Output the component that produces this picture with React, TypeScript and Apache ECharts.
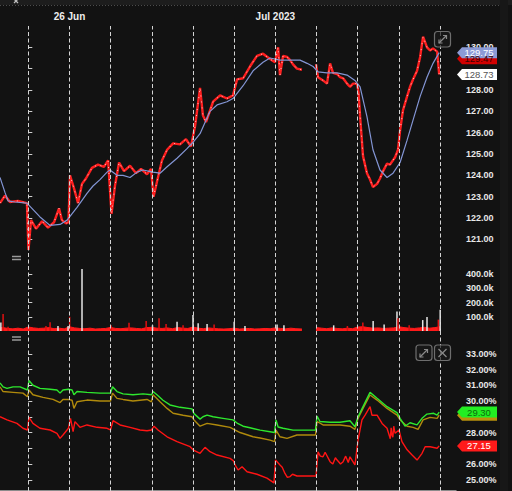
import React, { useEffect, useRef } from 'react';
import * as echarts from 'echarts';

// x values are hours since 25 Jun 00:00
const X_MIN = -16.5;
const X_MAX = 249.3;

const dayLineHours = [0, 24, 48, 72, 96, 120, 144, 168, 192, 216, 240];
const topTickHours = [24, 144];
const topTickLabels = ['26 Jun', 'Jul 2023'];

const priceTicks = [121, 122, 123, 124, 125, 126, 127, 128, 129, 130];
const priceLabelTicks = [121, 122, 123, 124, 125, 126, 127, 128, 130]; // 129.00 sits under the price tags
const volumeTicks = [100, 200, 300, 400]; // thousands
const pctTicks = [25, 26, 27, 28, 29, 30, 31, 32, 33];
const pctLabelTicks = [25, 26, 27, 28, 30, 31, 32, 33]; // 29.00% sits under the green tag

const price: [number, number | null][] = [
  [-16.5, 122.7], [-13.6, 123.05], [-10.7, 122.75], [-6.0, 122.8], [-0.8, 122.7], [0.1, 120.5], [1.6, 121.9],
  [4.5, 121.5], [8.0, 121.85], [11.5, 121.55], [15.0, 121.8], [17.9, 122.45], [19.6, 121.9], [22.0, 121.75],
  [23.4, 121.8], [24.3, 124.0], [26.6, 123.4], [29.0, 122.7], [31.3, 123.6], [33.6, 123.85], [37.1, 124.35],
  [40.6, 124.5], [44.1, 124.4], [46.5, 124.7], [48.5, 122.2], [50.5, 123.5], [52.9, 124.6], [55.8, 124.2],
  [59.3, 124.45], [62.8, 124.1], [65.7, 124.3], [69.2, 124.05], [71.5, 124.3], [73.0, 123.0], [75.0, 123.7],
  [77.9, 124.7], [80.9, 125.2], [84.4, 125.5], [88.4, 125.45], [91.9, 125.7], [94.8, 125.35], [97.2, 126.3],
  [100.1, 128.1], [101.8, 126.8], [103.6, 126.5], [107.7, 127.45], [111.8, 127.75], [115.8, 127.6],
  [119.3, 127.75], [121.7, 128.5], [125.2, 128.55], [129.2, 129.1], [133.3, 129.6], [136.8, 129.7],
  [140.9, 129.45], [143.8, 129.3], [145.6, 130.0], [146.7, 128.7], [148.5, 129.6], [150.8, 129.55],
  [152.6, 129.4], [154.3, 129.2], [156.6, 129.0], [159.5, 128.95], [163, null], [167.7, 129.2],
  [168.9, 128.6], [171.8, 128.45], [174.1, 128.3], [175.9, 129.25], [177.6, 128.8], [180.0, 128.75],
  [181.7, 128.6], [183.5, 128.55], [185.8, 128.3], [187.5, 128.15], [189.3, 128.3], [191.6, 128.3],
  [192.5, 127.9], [193.4, 126.75], [195.1, 124.9], [197.4, 124.1], [199.2, 123.8], [200.9, 123.45],
  [203.3, 123.6], [205.0, 123.85], [206.8, 124.2], [209.1, 124.55], [210.8, 124.5], [213.8, 124.85],
  [215.5, 125.2], [216.7, 126.1], [218.4, 127.05], [220.8, 127.7], [222.5, 128.15], [224.3, 128.5],
  [226.6, 128.9], [228.4, 129.55], [230.1, 130.5], [232.4, 130.0], [234.2, 129.85], [235.9, 129.95],
  [238.3, 129.8], [239.5, 128.73],
];

const priceMA: [number, number][] = [
  [-16.5, 123.9], [-13.6, 123.2], [-11.8, 122.8], [-7.8, 122.75], [-0.8, 122.7], [6.8, 122.05], [12.7, 121.65],
  [18.5, 121.7], [22.6, 121.9], [28.4, 122.5], [34.2, 123.15], [37.7, 123.5], [41.8, 123.8], [45.9, 124.15],
  [47.6, 124.25], [51.7, 124.0], [55.2, 124.0], [59.3, 123.9], [63.4, 124.15], [66.9, 124.25], [72.7, 124.15],
  [76.8, 124.1], [80.9, 124.4], [86.7, 124.8], [92.5, 125.25], [96.0, 125.55], [100.1, 125.95], [105.9, 127.0],
  [110.0, 127.3], [115.8, 127.45], [119.3, 127.6], [125.2, 128.2], [131.0, 128.9], [136.8, 129.3],
  [140.9, 129.5], [146.7, 129.4], [152.6, 129.4], [158.4, 129.4], [162.5, 129.25], [166.0, 129.1],
  [168.9, 128.85], [174.1, 128.8], [180.0, 128.8], [185.8, 128.7], [190.4, 128.45], [193.4, 128.15],
  [197.4, 126.75], [200.9, 125.2], [205.0, 124.25], [209.1, 123.9], [212.6, 124.1], [216.7, 124.6],
  [220.8, 125.65], [224.3, 126.6], [228.4, 127.7], [232.4, 128.6], [235.9, 129.25], [239.5, 129.75],
];

const bidTagValue = 129.47;

// volume in thousands
const volumeBase: [number, number | null][] = [
  [-16.5, 22], [-15, 25], [-12, 18], [-9, 15], [-6, 20], [-3, 14], [0, 28], [3, 22], [6, 18], [9, 20], [12, 24],
  [15, 16], [18, 20], [21, 15], [24, 30], [27, 22], [30, 18], [33, 16], [36, 20], [39, 14], [42, 16],
  [45, 18], [48, 25], [51, 18], [54, 16], [57, 20], [60, 22], [63, 18], [66, 15], [69, 24], [72, 26],
  [75, 20], [78, 18], [81, 22], [84, 16], [87, 24], [90, 20], [93, 18], [96, 28], [99, 20], [102, 16],
  [105, 22], [108, 18], [111, 15], [114, 14], [117, 16], [120, 20], [123, 14], [126, 16], [129, 18],
  [132, 14], [135, 15], [138, 18], [141, 16], [144, 22], [147, 18], [150, 15], [153, 20], [156, 16],
  [159.5, 14], [163, null], [167.7, 24], [171, 20], [174, 16], [177, 22], [180, 18], [183, 15], [186, 20],
  [189, 16], [192, 28], [195, 30], [198, 24], [201, 20], [204, 22], [207, 18], [210, 20], [213, 22],
  [216, 30], [219, 24], [222, 20], [225, 18], [228, 22], [231, 26], [234, 20], [237, 24], [240, 30],
];

// [hour, thousands, 1 = up (white), 0 = down (red)]
const volumeSpikes: [number, number, number][] = [
  [-16.0, 60, 1], [-14.7, 120, 0], [-11.8, 30, 0], [10.3, 35, 0], [12.7, 62, 0], [17.3, 35, 1],
  [23.2, 35, 1], [24.1, 100, 0], [31.3, 437, 1], [48.2, 40, 0], [58.7, 58, 0], [68.7, 70, 0],
  [72.4, 40, 1], [76.2, 90, 0], [80.3, 50, 0], [86.7, 65, 1], [90.2, 40, 0], [96.0, 112, 1],
  [99.0, 55, 1], [104.2, 50, 1], [108.3, 45, 0], [120.0, 65, 1], [126.3, 35, 1], [145.0, 45, 1],
  [149.0, 40, 1], [178.0, 40, 1], [186.0, 35, 0], [195.0, 60, 0], [201.0, 70, 1], [207.4, 45, 1],
  [214.9, 137, 1], [215.5, 90, 0], [222.0, 40, 0], [229.9, 77, 1], [232.4, 99, 1], [239.0, 80, 0],
  [240.1, 150, 1],
];

const ivGreen: [number, number][] = [
  [-16.5, 31.15], [-14.7, 30.9], [-12.4, 30.8], [-8.9, 30.9], [-4.8, 30.9], [-0.5, 30.7], [0.4, 31.3],
  [2.7, 31.0], [6.8, 30.8], [12.7, 30.75], [16.7, 30.7], [18.5, 30.5], [20.2, 30.7], [23.4, 30.75],
  [25.5, 30.7], [26.6, 30.4], [28.4, 30.6], [34.2, 30.55], [41.8, 30.5], [47.9, 30.5], [49.1, 30.9],
  [51.7, 30.6], [55.2, 30.45], [61.0, 30.4], [66.9, 30.45], [71.8, 30.4], [72.7, 30.6], [75.0, 30.4],
  [78.5, 30.05], [82.6, 29.75], [88.4, 29.6], [95.4, 29.5], [96.6, 29.2], [100.1, 28.85], [101.8, 29.0],
  [104.2, 29.1], [107.7, 29.0], [113.5, 28.9], [119.3, 28.8], [121.7, 28.6], [125.2, 28.4], [129.2, 28.3],
  [135.1, 28.15], [140.9, 28.05], [143.5, 28.0], [144.4, 28.8], [145.6, 28.35], [148.5, 28.27],
  [154.3, 28.15], [161.9, 28.15], [167.4, 28.15], [168.3, 29.05], [170.0, 28.7], [175.9, 28.65],
  [181.7, 28.65], [187.5, 28.75], [190.4, 28.37], [192.2, 29.0], [195.1, 29.64], [199.2, 30.55],
  [203.3, 30.17], [209.1, 29.64], [214.9, 29.26], [216.7, 28.9], [219.6, 28.4], [222.5, 28.62],
  [226.6, 28.48], [229.5, 28.9], [232.4, 29.17], [236.3, 29.22], [238.3, 29.1], [239.5, 29.3],
];

const ivGold: [number, number][] = [
  [-16.5, 30.9], [-14.7, 30.6], [-8.9, 30.55], [-3.1, 30.5], [-0.5, 30.27], [0.4, 30.7], [2.7, 30.4],
  [8.6, 30.23], [14.4, 30.1], [18.5, 29.9], [20.2, 30.1], [23.4, 30.1], [25.5, 30.05], [26.6, 29.53],
  [28.4, 29.95], [34.2, 30.06], [41.8, 30.0], [47.9, 30.0], [49.1, 30.5], [51.7, 30.17], [55.2, 30.1],
  [61.0, 30.0], [69.2, 30.1], [71.8, 29.95], [72.7, 30.4], [76.8, 29.95], [80.9, 29.53], [84.4, 29.22],
  [90.2, 29.1], [95.4, 29.0], [96.6, 28.8], [100.1, 28.4], [104.2, 28.58], [110.0, 28.48], [117.6, 28.33],
  [123.4, 28.0], [131.0, 27.73], [135.1, 27.65], [140.9, 27.52], [143.5, 27.42], [144.4, 28.15],
  [146.7, 27.73], [150.8, 27.63], [156.6, 27.84], [167.4, 27.84], [168.3, 28.7], [171.8, 28.48],
  [181.7, 28.48], [187.5, 28.4], [190.4, 28.2], [192.2, 28.9], [195.1, 29.53], [199.2, 30.38],
  [203.3, 30.06], [209.1, 29.53], [214.9, 29.1], [216.7, 28.8], [220.8, 28.4], [224.3, 28.33],
  [227.2, 28.2], [230.1, 28.8], [234.2, 28.96], [238.3, 28.9], [239.5, 29.1],
];

const ivRed: [number, number][] = [
  [-16.5, 29.0], [-12.4, 28.8], [-6.6, 28.58], [-3.1, 28.27], [-0.5, 28.16], [0.4, 28.96], [2.7, 28.58],
  [6.8, 28.27], [12.7, 28.16], [16.7, 27.95], [18.5, 27.63], [20.2, 27.84], [23.4, 28.27], [24.6, 28.9],
  [26.1, 28.05], [27.2, 28.69], [30.1, 28.33], [34.2, 28.48], [40.1, 28.33], [45.9, 28.27], [47.9, 28.16],
  [49.4, 28.75], [53.5, 28.48], [59.3, 28.33], [65.1, 28.16], [69.2, 28.11], [71.8, 28.16], [73.3, 28.4],
  [75.6, 28.16], [80.9, 27.73], [86.7, 27.42], [94.3, 27.1], [96.0, 26.9], [100.1, 26.68], [103.0, 27.06],
  [105.9, 26.78], [110.0, 26.57], [117.6, 26.36], [119.6, 26.2], [120.5, 25.94], [122.3, 25.62],
  [124.6, 25.83], [127.5, 25.51], [133.3, 25.35], [139.1, 25.1], [143.2, 24.8], [144.1, 26.25],
  [146.7, 25.94], [148.0, 25.8], [149.6, 25.4], [151.0, 25.15], [152.6, 25.2], [154.0, 25.35],
  [156.6, 25.24], [167.7, 25.24], [168.9, 26.78], [170.2, 26.5], [171.8, 26.46], [173.0, 26.75],
  [175.9, 26.15], [177.5, 26.0], [179.0, 26.4], [180.0, 26.25], [182.0, 26.0], [183.5, 26.15],
  [185.0, 26.5], [186.5, 26.1], [187.5, 26.46], [190.4, 25.94], [192.2, 27.52], [194.5, 28.8],
  [196.3, 29.1], [199.2, 29.64], [200.3, 29.1], [203.3, 29.1], [206.2, 28.58], [209.1, 28.27],
  [211.0, 27.6], [211.5, 28.3], [212.0, 27.84], [212.5, 27.7], [213.0, 28.4], [213.8, 27.95],
  [216.1, 28.16], [217.8, 27.42], [220.8, 26.9], [223.7, 26.57], [226.6, 26.25], [229.5, 26.68],
  [231.3, 27.1], [234.2, 27.1], [238.3, 27.0], [239.5, 27.15],
];

const FONT = 'Liberation Sans, Arial, sans-serif';
const TAG_PATH = 'path://M0,5.5 L5,0 L40,0 L40,11 L5,11 Z';

function lastValue(arr: [number, number | null][]): number {
  return arr[arr.length - 1][1] as number;
}

function tag(value: number, bg: string, fg: string, showText = true) {
  return {
    coord: [X_MAX, value],
    symbol: TAG_PATH,
    symbolSize: [40, 11],
    symbolOffset: [21, 0],
    symbolKeepAspect: false,
    itemStyle: { color: bg },
    label: {
      show: showText,
      position: 'inside',
      formatter: value.toFixed(2),
      color: fg,
      fontSize: 9.5,
      fontFamily: FONT,
      offset: [2, 0],
    },
  };
}

function rightAxis(
  gridIndex: number,
  min: number,
  max: number,
  ticks: number[],
  labelTicks: number[],
  fmt: (v: number) => string,
) {
  return {
    type: 'value',
    gridIndex,
    position: 'right',
    min,
    max,
    axisLine: { show: false },
    splitLine: { show: false },
    axisTick: { show: true, customValues: ticks, length: 4, lineStyle: { color: '#d0d0d0', width: 1 } },
    axisLabel: {
      show: true,
      customValues: labelTicks,
      formatter: fmt,
      color: '#e8e8e8',
      fontSize: 9,
      fontWeight: 'bold',
      fontFamily: FONT,
      margin: 10,
    },
  };
}

function hiddenX(gridIndex: number) {
  return { type: 'value', gridIndex, min: X_MIN, max: X_MAX, show: false };
}

const gridBase = { left: 0, right: 56, outerBoundsMode: 'none', containLabel: false };

function iconBox(x: number, y: number) {
  return {
    type: 'rect',
    shape: { x, y, width: 16, height: 15.5, r: 3 },
    style: { fill: 'rgba(25,25,25,0.7)', stroke: '#6e6e6e', lineWidth: 1.2 },
    silent: true,
    z: 100,
  };
}

function seg(x1: number, y1: number, x2: number, y2: number, color = '#8a8a8a', w = 1.2) {
  return { type: 'line', shape: { x1, y1, x2, y2 }, style: { stroke: color, lineWidth: w }, silent: true, z: 101 };
}

function poly(points: number[][], color = '#8a8a8a') {
  return { type: 'polyline', shape: { points }, style: { stroke: color, lineWidth: 1.2, fill: 'none' }, silent: true, z: 101 };
}

const option: any = {
  animation: false,
  backgroundColor: '#121212',
  grid: [
    { ...gridBase, top: 26, bottom: 0 },
    { ...gridBase, top: 26, height: 224 },
    { ...gridBase, top: 260, height: 71 },
    { ...gridBase, top: 338, height: 152.8 },
  ],
  xAxis: [
    {
      type: 'value',
      gridIndex: 0,
      position: 'top',
      min: X_MIN,
      max: X_MAX,
      axisLine: { show: true, lineStyle: { color: '#b4b4b4', width: 1.5 } },
      axisTick: { show: true, customValues: topTickHours, length: 3, lineStyle: { color: '#b4b4b4' } },
      axisLabel: {
        show: true,
        customValues: topTickHours,
        formatter: (v: number) => topTickLabels[topTickHours.indexOf(v)] ?? '',
        color: '#eeeeee',
        fontSize: 10,
        fontWeight: 'bold',
        fontFamily: FONT,
        margin: 5,
      },
      splitLine: { show: false },
    },
    hiddenX(1),
    hiddenX(2),
    hiddenX(3),
  ],
  yAxis: [
    { type: 'value', gridIndex: 0, min: 0, max: 1, show: false },
    rightAxis(1, 120.5, 131, priceTicks, priceLabelTicks, (v) => v.toFixed(2)),
    rightAxis(2, 0, 500, volumeTicks, volumeTicks, (v) => v.toFixed(1) + 'k'),
    rightAxis(3, 24.3, 34, pctTicks, pctLabelTicks, (v) => v.toFixed(2) + '%'),
  ],
  series: [
    {
      name: 'days',
      type: 'line',
      xAxisIndex: 0,
      yAxisIndex: 0,
      data: [[X_MIN, -1]],
      symbol: 'none',
      lineStyle: { opacity: 0 },
      z: 10,
      markLine: {
        silent: true,
        symbol: ['none', 'none'],
        label: { show: false },
        lineStyle: { color: '#d4d4d4', type: [4, 2.5], width: 1 },
        data: dayLineHours.map((h) => ({ xAxis: h })),
      },
    },
    {
      name: 'price',
      type: 'line',
      xAxisIndex: 1,
      yAxisIndex: 1,
      data: price,
      symbol: 'none',
      connectNulls: false,
      lineStyle: { color: '#ff1f1f', width: 2.4 },
      z: 3,
      markPoint: {
        silent: true,
        data: [tag(bidTagValue, '#d00000', '#3a0000'), tag(lastValue(price), '#ffffff', '#555555')],
      },
    },
    {
      name: 'priceTicks',
      type: 'line',
      xAxisIndex: 1,
      yAxisIndex: 1,
      data: price,
      symbol: 'none',
      connectNulls: false,
      lineStyle: { color: '#ffffff', width: 1, type: [1, 5], opacity: 0.75 },
      z: 3,
    },
    {
      name: 'ma',
      type: 'line',
      xAxisIndex: 1,
      yAxisIndex: 1,
      data: priceMA,
      symbol: 'none',
      lineStyle: { color: '#8395d4', width: 1.2 },
      z: 4,
      markPoint: {
        silent: true,
        data: [tag(lastValue(priceMA), '#8c9bd6', '#ffffff')],
      },
    },
    {
      name: 'volumeBase',
      type: 'line',
      xAxisIndex: 2,
      yAxisIndex: 2,
      data: volumeBase,
      symbol: 'none',
      connectNulls: false,
      lineStyle: { color: '#ff1a1a', width: 1 },
      areaStyle: { color: '#ff1a1a', opacity: 1 },
      z: 2,
    },
    {
      name: 'volumeSpikes',
      type: 'bar',
      xAxisIndex: 2,
      yAxisIndex: 2,
      barWidth: 1.5,
      data: volumeSpikes.map(([h, v, up]) => ({
        value: [h, v],
        itemStyle: { color: up ? '#e6e6e6' : '#e01010' },
      })),
      z: 3,
    },
    {
      name: 'ivGold',
      type: 'line',
      xAxisIndex: 3,
      yAxisIndex: 3,
      data: ivGold,
      symbol: 'none',
      lineStyle: { color: '#b08a0c', width: 1.4 },
      z: 3,
      markPoint: { silent: true, data: [tag(lastValue(ivGold), '#b8920c', '#3a2e00', false)] },
    },
    {
      name: 'ivGreen',
      type: 'line',
      xAxisIndex: 3,
      yAxisIndex: 3,
      data: ivGreen,
      symbol: 'none',
      lineStyle: { color: '#2ee82e', width: 1.4 },
      z: 4,
      markPoint: { silent: true, data: [tag(lastValue(ivGreen), '#22ee22', '#0d6a0d')] },
    },
    {
      name: 'ivRed',
      type: 'line',
      xAxisIndex: 3,
      yAxisIndex: 3,
      data: ivRed,
      symbol: 'none',
      lineStyle: { color: '#ff1414', width: 1.4 },
      z: 4,
      markPoint: { silent: true, data: [tag(lastValue(ivRed), '#ff1a1a', '#ffffff')] },
    },
  ],
  graphic: [
    { type: 'rect', shape: { x: 0, y: 0, width: 512, height: 5 }, style: { fill: '#1d1d1d' }, silent: true },
    { type: 'line', shape: { x1: 0, y1: 5.5, x2: 500, y2: 5.5 }, style: { stroke: '#4c4c4c', lineWidth: 1, lineDash: [1, 2] }, silent: true },
    { type: 'rect', shape: { x: 500, y: 0, width: 8, height: 491 }, style: { fill: '#171717' }, silent: true },
    // close icon in the top bar (only its lower half is on screen)
    seg(14, -1, 18, 3, '#bdbdbd', 1.3),
    seg(18, -1, 14, 3, '#bdbdbd', 1.3),
    // pane separators "="
    seg(12, 256.5, 21, 256.5, '#9a9a9a', 1.5),
    seg(12, 259.5, 21, 259.5, '#9a9a9a', 1.5),
    seg(12, 337, 21, 337, '#9a9a9a', 1.5),
    seg(12, 340, 21, 340, '#9a9a9a', 1.5),
    // price pane expand icon
    iconBox(434.5, 31.5),
    seg(439, 43, 446.5, 35.5),
    poly([[443, 35.5], [446.5, 35.5], [446.5, 39]]),
    poly([[439, 39.5], [439, 43], [442.5, 43]]),
    // pane 3 icons
    iconBox(416, 345),
    seg(420, 357, 427.5, 349.5),
    poly([[424, 349.5], [427.5, 349.5], [427.5, 353]]),
    poly([[420, 353.5], [420, 357], [423.5, 357]]),
    iconBox(434.5, 345),
    seg(438.5, 349, 446.5, 357),
    seg(446.5, 349, 438.5, 357),
  ],
};

export default function App() {
  const ref = useRef<HTMLDivElement>(null);
  useEffect(() => {
    const chart = echarts.init(ref.current as HTMLDivElement, null, { renderer: 'svg' });
    chart.setOption(option);
    return () => chart.dispose();
  }, []);
  return (
    <div
      ref={ref}
      style={{ position: 'fixed', left: 0, top: 0, width: 512, height: 491, background: '#121212' }}
    />
  );
}
